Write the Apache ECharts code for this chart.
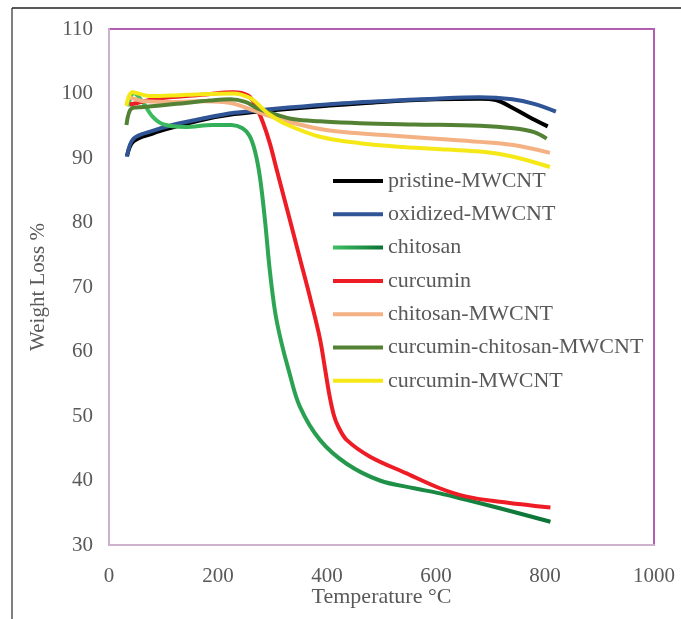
<!DOCTYPE html>
<html>
<head>
<meta charset="utf-8">
<script src="https://cdn.jsdelivr.net/npm/echarts@6/dist/echarts.min.js"></script>
<style>
  html, body { margin: 0; padding: 0; background: #fff; }
  #chart { width: 681px; height: 619px; }
</style>
</head>
<body>
<div id="chart"></div>
<script>
// tick labels
var xTicks = [0, 200, 400, 600, 800, 1000];
var yTicks = [30, 40, 50, 60, 70, 80, 90, 100, 110];

// [temperature °C, weight %]
var pristine = [[33, 90.3], [45, 92.6], [80, 93.8], [120, 94.8], [170, 95.9], [230, 96.8], [300, 97.4], [400, 98.1], [500, 98.7], [600, 99.1], [680, 99.2], [710, 99.0], [740, 97.8], [770, 96.4], [805, 94.9]];
var oxidized = [[33, 90.2], [45, 93.0], [80, 94.2], [120, 95.2], [170, 96.1], [230, 97.0], [300, 97.6], [400, 98.3], [500, 98.8], [600, 99.2], [680, 99.4], [740, 99.1], [780, 98.4], [820, 97.2]];
var chitosan = [[35, 98], [45, 100.1], [60, 98.9], [80, 96.4], [100, 95.2], [140, 94.8], [190, 95.1], [225, 95.1], [245, 94.6], [258, 93.4], [268, 91], [277, 87], [286, 80.5], [295, 72.6], [305, 66], [316, 61.5], [330, 57], [350, 51.5], [387, 46.3], [436, 42.6], [497, 40.0], [560, 38.8], [607, 38.0], [656, 37.0], [717, 35.7], [810, 33.6]];
var curcumin = [[38, 98.3], [50, 98.5], [80, 99.1], [110, 99.4], [170, 99.8], [228, 100.2], [255, 99.7], [268, 98.3], [283, 95.4], [295, 92.3], [308, 88.1], [330, 81], [350, 74.5], [370, 68], [387, 62], [397, 57], [405, 53], [413, 50], [421, 48.3], [436, 46.3], [479, 43.7], [546, 41.1], [607, 38.8], [656, 37.5], [717, 36.7], [810, 35.8]];
var chitosanCnt = [[35, 99.5], [45, 99.2], [65, 98.8], [120, 98.7], [170, 98.8], [210, 98.7], [230, 98.4], [265, 97.4], [295, 96.5], [326, 95.7], [375, 94.7], [420, 94.1], [497, 93.6], [600, 93.0], [681, 92.5], [742, 92.0], [809, 90.8]];
var curChiCnt = [[32, 95.1], [42, 97.7], [63, 97.9], [124, 98.4], [185, 98.9], [222, 99.1], [250, 98.7], [275, 97.6], [300, 96.9], [340, 96.0], [387, 95.7], [460, 95.4], [560, 95.2], [681, 95.0], [742, 94.6], [780, 94.0], [803, 93.0]];
var curCnt = [[32, 98.1], [43, 100.2], [75, 99.6], [120, 99.7], [170, 99.9], [228, 100.0], [259, 99.3], [280, 97.8], [295, 96.7], [326, 95.2], [387, 93.3], [460, 92.3], [540, 91.7], [620, 91.3], [681, 91.0], [742, 90.2], [809, 88.6]];

var names = ['pristine-MWCNT', 'oxidized-MWCNT', 'chitosan', 'curcumin', 'chitosan-MWCNT', 'curcumin-chitosan-MWCNT', 'curcumin-MWCNT'];
var datasets = [pristine, oxidized, chitosan, curcumin, chitosanCnt, curChiCnt, curCnt];

var greenGrad = new echarts.graphic.LinearGradient(0, 0, 1, 0, [
  {offset: 0, color: '#3fc063'},
  {offset: 1, color: '#0b7336'}
]);
var colors = ['#000000', '#2f5597', greenGrad, '#ee1c25', '#f4b183', '#548235', '#f5e816'];

var font = 'Liberation Serif';
var txt = '#595959';

var myChart = echarts.init(document.getElementById('chart'));
var series = [];
for (let i = 0; i < names.length; i++) {
  series.push({
    name: names[i],
    type: 'line',
    smooth: 0.35,
    showSymbol: false,
    color: colors[i],
    lineStyle: {width: 4, color: colors[i]},
    data: datasets[i]
  });
}

var option = {
  backgroundColor: '#fff',
  animation: false,
  grid: {
    left: 109, right: 27, top: 29, bottom: 74,
    show: true, borderColor: '#b25fb2', borderWidth: 2
  },
  legend: {
    data: names,
    orient: 'vertical',
    left: 328, top: 165,
    itemWidth: 50, itemHeight: 4,
    itemGap: 11.3,
    icon: 'rect',
    textStyle: {fontFamily: font, fontSize: 22, color: txt, lineHeight: 22}
  },
  xAxis: {
    type: 'value', min: 0, max: 1000, interval: 200,
    name: 'Temperature °C', nameLocation: 'middle', nameGap: 41,
    nameMoveOverlap: false,
    nameTextStyle: {fontFamily: font, fontSize: 22, color: txt},
    axisLine: {show: true, lineStyle: {color: '#cdb2cd', width: 2}},
    axisTick: {show: false},
    splitLine: {show: false},
    axisLabel: {fontFamily: font, fontSize: 21, color: txt, margin: 21,
      formatter: function (v) { return xTicks.indexOf(v) >= 0 ? String(v) : ''; }}
  },
  yAxis: {
    type: 'value', min: 30, max: 110, interval: 10,
    name: 'Weight Loss %', nameLocation: 'middle', nameGap: 60,
    nameMoveOverlap: false,
    nameTextStyle: {fontFamily: font, fontSize: 21, color: txt},
    axisLine: {show: true, lineStyle: {color: '#cdb2cd', width: 2}},
    axisTick: {show: false},
    splitLine: {show: false},
    axisLabel: {fontFamily: font, fontSize: 21, color: txt, margin: 16,
      formatter: function (v) { return yTicks.indexOf(v) >= 0 ? String(v) : ''; }}
  },
  graphic: [
    {type: 'line', shape: {x1: 12, y1: 8, x2: 12, y2: 619}, style: {stroke: '#555', lineWidth: 1.5}},
    {type: 'line', shape: {x1: 12, y1: 8, x2: 681, y2: 8}, style: {stroke: '#222', lineWidth: 1.5}}
  ],
  series: series
};
myChart.setOption(option);
</script>
</body>
</html>
